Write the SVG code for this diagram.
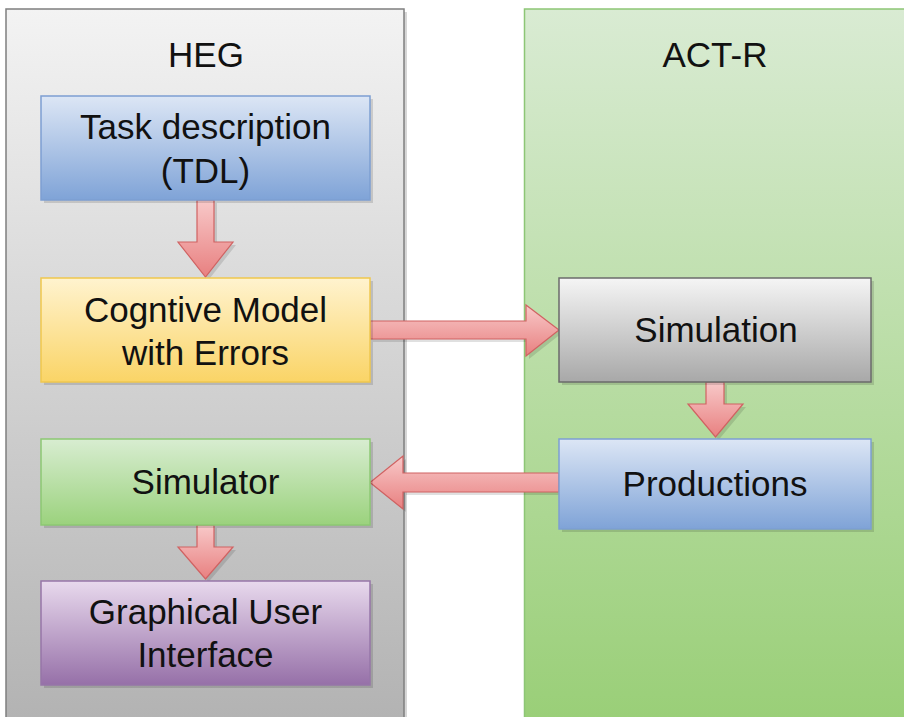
<svg xmlns="http://www.w3.org/2000/svg" width="904" height="717" viewBox="0 0 904 717">
<defs>
<linearGradient id="gHeg" gradientUnits="userSpaceOnUse" x1="0" y1="9" x2="0" y2="717"><stop offset="0" stop-color="#f3f3f3"/><stop offset="1" stop-color="#b3b3b3"/></linearGradient>
<linearGradient id="gAct" gradientUnits="userSpaceOnUse" x1="0" y1="9" x2="0" y2="717"><stop offset="0" stop-color="#d9ebd3"/><stop offset="1" stop-color="#9acf78"/></linearGradient>
<linearGradient id="gBlue" x1="0" y1="0" x2="0" y2="1"><stop offset="0" stop-color="#dce6f5"/><stop offset="1" stop-color="#7fa3d7"/></linearGradient>
<linearGradient id="gYel" x1="0" y1="0" x2="0" y2="1"><stop offset="0" stop-color="#fff3cf"/><stop offset="1" stop-color="#fad466"/></linearGradient>
<linearGradient id="gGrn" x1="0" y1="0" x2="0" y2="1"><stop offset="0" stop-color="#d8edd1"/><stop offset="1" stop-color="#9bd27d"/></linearGradient>
<linearGradient id="gPur" x1="0" y1="0" x2="0" y2="1"><stop offset="0" stop-color="#e8d9ed"/><stop offset="1" stop-color="#9670a8"/></linearGradient>
<linearGradient id="gGry" x1="0" y1="0" x2="0" y2="1"><stop offset="0" stop-color="#f5f5f5"/><stop offset="1" stop-color="#a8a8a8"/></linearGradient>
<linearGradient id="gArr" x1="0" y1="0" x2="0" y2="1"><stop offset="0" stop-color="#f8c9c9"/><stop offset="1" stop-color="#e88080"/></linearGradient>
</defs>
<style>
.t{font-family:"Liberation Sans",Arial,sans-serif;font-size:35px;fill:#111;text-anchor:middle}
.sh{fill:#000;opacity:0.13}
.box{stroke-width:1.5}
.arr{fill:url(#gArr);stroke:#d06262;stroke-width:1.2;stroke-linejoin:miter}
.ash{fill:#000;opacity:0.12}
</style>

<g id="panel-heg">
<rect x="9" y="12" width="398" height="720" fill="#d6d6d6"/>
<rect x="6" y="9" width="398" height="720" fill="url(#gHeg)" stroke="#7f7f7f" stroke-width="1.5"/>
<text class="t" x="206" y="67">HEG</text>
</g>

<g id="panel-actr">
<rect x="524.5" y="9" width="400" height="720" fill="url(#gAct)" stroke="#8dc676" stroke-width="1.5"/>
<text class="t" x="715" y="67">ACT-R</text>
</g>

<g id="connectors">
<polygon class="ash" transform="translate(3,3)" points="197,200 214,200 214,242 233,242 205.5,277 178,242 197,242"/>
<polygon class="arr" points="197,200 214,200 214,242 233,242 205.5,277 178,242 197,242"/>
<polygon class="ash" transform="translate(3,3)" points="370,321 526,321 526,305 559,330 526,356 526,339 370,339"/>
<polygon class="arr" points="370,321 526,321 526,305 559,330 526,356 526,339 370,339"/>
<polygon class="ash" transform="translate(3,3)" points="706,382 724,382 724,404 743,404 715.5,437 688,404 706,404"/>
<polygon class="arr" points="706,382 724,382 724,404 743,404 715.5,437 688,404 706,404"/>
<polygon class="ash" transform="translate(3,3)" points="559,473 403,473 403,456 370,482.5 403,509 403,492 559,492"/>
<polygon class="arr" points="559,473 403,473 403,456 370,482.5 403,509 403,492 559,492"/>
<polygon class="ash" transform="translate(3,3)" points="197,525 214,525 214,547 233,547 205.5,579 178,547 197,547"/>
<polygon class="arr" points="197,525 214,525 214,547 233,547 205.5,579 178,547 197,547"/>
</g>

<g id="node-task">
<rect class="sh" x="44" y="99" width="329" height="104"/>
<rect class="box" x="41" y="96" width="329" height="104" fill="url(#gBlue)" stroke="#7d9fd2"/>
<text class="t" x="205.5" y="139">Task description</text>
<text class="t" x="205.5" y="183">(TDL)</text>
</g>

<g id="node-cognitive">
<rect class="sh" x="44" y="281" width="329" height="104"/>
<rect class="box" x="41" y="278" width="329" height="104" fill="url(#gYel)" stroke="#efc74e"/>
<text class="t" x="205.5" y="322">Cogntive Model</text>
<text class="t" x="205.5" y="365">with Errors</text>
</g>

<g id="node-simulator">
<rect class="sh" x="44" y="442" width="329" height="86"/>
<rect class="box" x="41" y="439" width="329" height="86" fill="url(#gGrn)" stroke="#8cc873"/>
<text class="t" x="205.5" y="494">Simulator</text>
</g>

<g id="node-gui">
<rect class="sh" x="44" y="584" width="329" height="104"/>
<rect class="box" x="41" y="581" width="329" height="104" fill="url(#gPur)" stroke="#9676a8"/>
<text class="t" x="205.5" y="624">Graphical User</text>
<text class="t" x="205.5" y="667">Interface</text>
</g>

<g id="node-simulation">
<rect class="sh" x="562" y="281" width="312" height="104"/>
<rect class="box" x="559" y="278" width="312" height="104" fill="url(#gGry)" stroke="#6b6b6b"/>
<text class="t" x="716" y="342">Simulation</text>
</g>

<g id="node-productions">
<rect class="sh" x="562" y="442" width="312" height="90"/>
<rect class="box" x="559" y="439" width="312" height="90" fill="url(#gBlue)" stroke="#7d9fd2"/>
<text class="t" x="715" y="496">Productions</text>
</g>
</svg>
